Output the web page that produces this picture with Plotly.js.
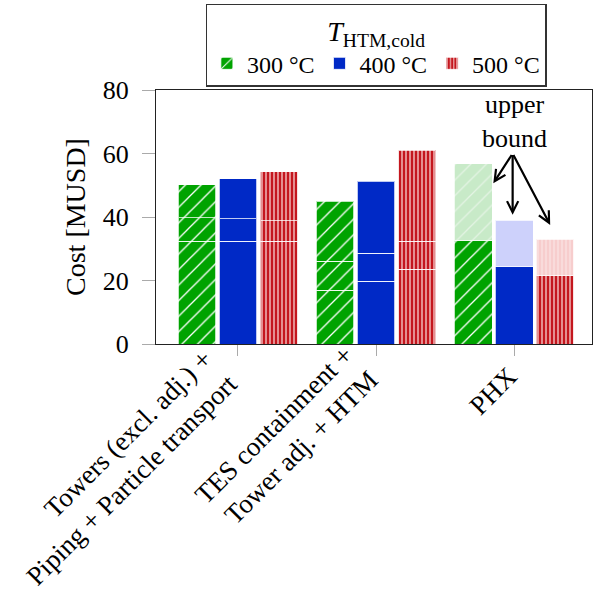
<!DOCTYPE html>
<html>
<head>
<meta charset="utf-8">
<script src="https://cdn.plot.ly/plotly-3.0.1.min.js"></script>
<style>html,body{margin:0;padding:0;background:#fff;}#chart{width:593px;height:609px;}</style>
</head>
<body>
<div id="chart"></div>
<script>
// ---- data ----
const categories = ['Towers (excl. adj.) +<br>Piping + Particle transport', 'TES containment +<br>Tower adj. + HTM', 'PHX'];
const seriesNames = ['300 °C', '400 °C', '500 °C'];
// stacked components (bottom, middle, top); PHX has one component plus an upper-bound increment
const bottom300 = [32.3, 17.0, 32.5];
const middle300 = [7.5, 9.0, null];
const top300    = [10.4, 18.9, null];
const upper300  = [null, null, 24.2];

const bottom400 = [32.3, 19.7, 24.3];
const middle400 = [7.1, 8.9, null];
const top400    = [12.6, 22.7, null];
const upper400  = [null, null, 14.6];

const bottom500 = [32.3, 23.6, 21.5];
const middle500 = [6.5, 8.7, null];
const top500    = [15.5, 28.7, null];
const upper500  = [null, null, 11.5];

// ---- styles ----
const FONT = 'Liberation Serif, Times New Roman, serif';
const offsets = [-0.297, 0, 0.297];
const barWidth = 0.275;
const styles = [
  {bg: '#00a300', fg: '#ffffff', shape: '/', size: 11, sol: 0.12,
   lbg: '#c8eac8', lfg: '#e4f4e4'},
  {bg: '#0029c6', fg: '#0029c6', shape: '', size: 8, sol: 0.2,
   lbg: '#cdd1fb', lfg: '#cdd1fb'},
  {bg: '#c4161e', fg: '#f2c2c2', shape: '|', size: 4, sol: 0.35,
   lbg: '#f7cdcd', lfg: '#fbe2e2'}
];
const data300 = [bottom300, middle300, top300, upper300];
const data400 = [bottom400, middle400, top400, upper400];
const data500 = [bottom500, middle500, top500, upper500];
const allSeries = [data300, data400, data500];

const traces = [];
allSeries.forEach((segs, s) => {
  const st = styles[s];
  segs.forEach((vals, k) => {
    const light = (k === 3);
    traces.push({
      type: 'bar',
      x: categories.map((c, i) => i + offsets[s]),
      y: vals,
      width: barWidth,
      name: seriesNames[s],
      legendgroup: seriesNames[s],
      showlegend: k === 0,
      hoverinfo: 'skip',
      marker: {
        color: light ? st.lbg : st.bg,
        line: {color: 'rgba(255,255,255,0.75)', width: 1},
        pattern: {
          shape: st.shape,
          bgcolor: light ? st.lbg : st.bg,
          fgcolor: light ? st.lfg : st.fg,
          fillmode: 'replace',
          size: st.size,
          solidity: st.sol
        }
      }
    });
  });
});

// category labels, rotated, anchored by their rotated bounding box (right/top) near each tick
const labelShifts = [{dx: 8, dy: 3}, {dx: 10, dy: 7}, {dx: 12, dy: -14}];
const annotations = categories.map((c, i) => ({
  x: i, y: 0, xref: 'x', yref: 'paper', text: c, showarrow: false,
  textangle: -45, align: 'right', xanchor: 'right', yanchor: 'top',
  xshift: labelShifts[i].dx, yshift: labelShifts[i].dy,
  font: {family: FONT, size: 27, color: '#000'}
}));

const arrowTail = {x: 1.99, y: 60.0};
const arrowHeads = [{x: 1.85, y: 50.6}, {x: 1.99, y: 40.7}, {x: 2.262, y: 37.5}];
annotations.push({
  x: 2.0, y: 70.2, xref: 'x', yref: 'y', showarrow: false,
  text: 'upper<br>bound', font: {family: FONT, size: 26, color: '#000'},
  align: 'center'
});
arrowHeads.forEach(h => annotations.push({
  x: h.x, y: h.y, xref: 'x', yref: 'y', text: '',
  showarrow: true, ax: arrowTail.x, ay: arrowTail.y, axref: 'x', ayref: 'y',
  arrowhead: 5, arrowsize: 1, arrowwidth: 2.2, arrowcolor: '#000', standoff: 0, startstandoff: 0
}));

const layout = {
  width: 593, height: 609,
  margin: {l: 156, r: 1, t: 90, b: 265},
  paper_bgcolor: '#fff', plot_bgcolor: '#fff',
  barmode: 'stack',
  font: {family: FONT, size: 26, color: '#000'},
  xaxis: {
    range: [-0.594, 2.565],
    tickmode: 'array', tickvals: categories.map((c, i) => i), ticktext: categories.map(() => ''),
    ticks: 'outside', ticklen: 11, tickcolor: '#aaaaaa', tickwidth: 1,
    showline: true, linecolor: '#222', linewidth: 1, mirror: true,
    showgrid: false, zeroline: false
  },
  yaxis: {
    range: [0, 80],
    tickvals: [0, 20, 40, 60, 80],
    ticks: 'outside', ticklen: 13, tickcolor: '#aaaaaa', tickwidth: 1,
    ticklabelstandoff: 8,
    showline: true, linecolor: '#222', linewidth: 1, mirror: true,
    showgrid: false, zeroline: false,
    tickfont: {family: FONT, size: 26, color: '#000'},
    title: {text: 'Cost [MUSD]', font: {family: FONT, size: 28, color: '#000'}, standoff: 8}
  },
  legend: {
    orientation: 'h', x: 0.505, xanchor: 'center', y: 1.34, yanchor: 'top',
    bordercolor: '#333', borderwidth: 1.2, bgcolor: '#fff',
    font: {family: FONT, size: 24, color: '#000'},
    title: {text: '<i>T</i><sub>HTM,cold</sub>', side: 'top center', font: {family: FONT, size: 28, color: '#000'}},
    itemwidth: 30, tracegroupgap: 0, traceorder: 'normal'
  },
  annotations: annotations
};

Plotly.newPlot('chart', traces, layout, {displayModeBar: false, staticPlot: true});
</script>
</body>
</html>
